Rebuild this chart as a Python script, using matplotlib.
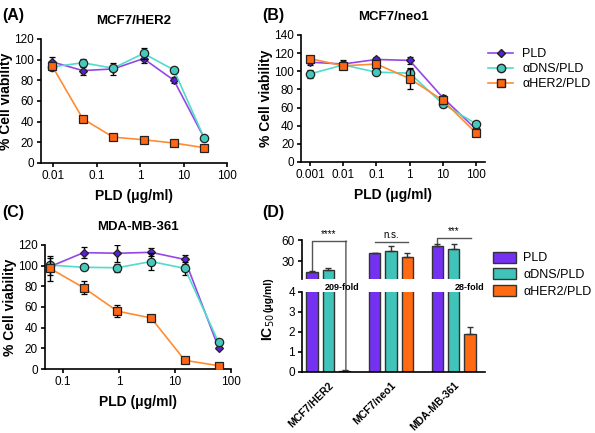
import matplotlib
matplotlib.use('Agg')
import matplotlib.pyplot as plt
from matplotlib.patches import Patch, ConnectionPatch
from matplotlib.lines import Line2D
from matplotlib.ticker import FixedLocator, FixedFormatter, NullLocator

plt.rcParams['font.family'] = ['Liberation Sans', 'DejaVu Sans']

# ---- data ----
series = ['PLD', 'αDNS/PLD', 'αHER2/PLD']

a_x = [0.0096, 0.048, 0.24, 1.2, 6, 30]
a_pld = [97.8, 89.4, 91, 101, 80, 24]
a_pld_err = [5, 4, 6, 4, 3, 2]
a_dns = [93, 97, 91.7, 106, 90, 24]
a_dns_err = [3, 4, 3, 5, 3, 2]
a_her2 = [93.5, 42.8, 25, 22.5, 19.3, 14.8]
a_her2_err = [2, 1.5, 1.5, 1.5, 1.5, 1]

b_x = [0.001, 0.01, 0.1, 1, 10, 100]
b_pld = [110, 108, 113, 112, 71, 36]
b_pld_err = [3, 4, 3, 4, 3, 2]
b_dns = [97, 107, 99, 98, 64, 42]
b_dns_err = [4, 3, 2, 5, 3, 2]
b_her2 = [114, 106, 108, 92, 68, 32]
b_her2_err = [3, 4, 3, 12, 4, 2]

c_x = [0.0586, 0.234, 0.9375, 3.75, 15, 60]
c_pld = [99, 112.6, 112, 112.9, 106, 20.6]
c_pld_err = [8, 5, 8, 4, 4, 1]
c_dns = [100.6, 98.4, 98, 104, 97.4, 25.8]
c_dns_err = [2, 2, 4, 8, 6, 2]
c_her2 = [97.4, 78.7, 56, 49.4, 8.4, 3.2]
c_her2_err = [12, 6, 6, 2, 2, 1]

cells = ['MCF7/HER2', 'MCF7/neo1', 'MDA-MB-361']
ic50_pld = [15.5, 41.2, 51.6]
ic50_pld_err = [1.2, 1, 3]
ic50_dns = [18.3, 44, 47.8]
ic50_dns_err = [1.5, 8, 6]
ic50_her2 = [0.074, 36.6, 1.88]
ic50_her2_err = [0.02, 4.5, 0.35]

line_cols = ['#9447e6', '#4fdccb', '#ff8c33']
face_cols = ['#5a1fd6', '#46c9bd', '#ff6614']
bar_cols = ['#7431f2', '#40c4b9', '#ff6a12']
markers = ['D', 'o', 's']
msizes = [4, 6, 6]

fig = plt.figure(figsize=(5.95, 4.33), dpi=100)


def curve_panel(ax, x, ys, errs, xticks, xlabels, ymax, title):
    for i in range(3):
        ax.errorbar(x, ys[i], yerr=errs[i], color=line_cols[i], lw=1.2,
                    marker=markers[i], ms=msizes[i], mfc=face_cols[i],
                    mec='#222222', mew=0.9, ecolor='black', elinewidth=1,
                    capsize=2.5, capthick=1, zorder=3 + i)
    ax.set_xscale('log')
    ax.xaxis.set_major_locator(FixedLocator(xticks))
    ax.xaxis.set_major_formatter(FixedFormatter(xlabels))
    ax.xaxis.set_minor_locator(NullLocator())
    ax.set_ylim(0, ymax)
    ax.set_yticks(range(0, ymax + 1, 20))
    for s in ['top', 'right']:
        ax.spines[s].set_visible(False)
    for s in ['left', 'bottom']:
        ax.spines[s].set_linewidth(1.2)
    ax.tick_params(labelsize=8.5, width=1.2, length=3, pad=2)
    ax.set_xlabel('PLD (μg/ml)', fontsize=10, fontweight='bold', labelpad=5)
    ax.set_ylabel('% Cell viability', fontsize=10, fontweight='bold', labelpad=1)
    ax.set_title(title, fontsize=9.5, fontweight='bold', pad=11)


axA = fig.add_axes([0.0689, 0.6236, 0.3126, 0.2864])
curve_panel(axA, a_x, [a_pld, a_dns, a_her2], [a_pld_err, a_dns_err, a_her2_err],
            [0.01, 0.1, 1, 10, 100], ['0.01', '0.1', '1', '10', '100'], 120, 'MCF7/HER2')
axA.set_xlim(10 ** -2.28, 100)

axB = fig.add_axes([0.5059, 0.6259, 0.3092, 0.2933])
curve_panel(axB, b_x, [b_pld, b_dns, b_her2], [b_pld_err, b_dns_err, b_her2_err],
            b_x, ['0.001', '0.01', '0.1', '1', '10', '100'], 140, 'MCF7/neo1')
axB.set_xlim(10 ** -3.27, 10 ** 2.27)

axC = fig.add_axes([0.0756, 0.1478, 0.3126, 0.2864])
curve_panel(axC, c_x, [c_pld, c_dns, c_her2], [c_pld_err, c_dns_err, c_her2_err],
            [0.1, 1, 10, 100], ['0.1', '1', '10', '100'], 120, 'MDA-MB-361')
axC.set_xlim(10 ** -1.32, 100)

handles = [Line2D([], [], color=line_cols[i], marker=markers[i], ms=msizes[i],
                  mfc=face_cols[i], mec='#222222', lw=1.2) for i in range(3)]
fig.legend(handles, series, loc='upper left', bbox_to_anchor=(0.802, 0.915),
           frameon=False, fontsize=9, handlelength=2.0, labelspacing=0.25,
           handletextpad=0.7)

# ---- panel D: broken axis bar chart ----
axLo = fig.add_axes([0.5076, 0.1409, 0.3076, 0.1848])
axUp = fig.add_axes([0.5076, 0.3557, 0.3076, 0.0900])
offs = [-0.26, 0, 0.26]
vals = [ic50_pld, ic50_dns, ic50_her2]
errs = [ic50_pld_err, ic50_dns_err, ic50_her2_err]
for ax in (axLo, axUp):
    for i in range(3):
        xs = [g + offs[i] for g in range(3)]
        ax.bar(xs, vals[i], width=0.18, color=bar_cols[i], edgecolor='#333333',
               linewidth=1.0, yerr=[[0] * 3, errs[i]], capsize=2,
               error_kw=dict(elinewidth=1, capthick=1, ecolor='#333333'), zorder=2)
    ax.set_xlim(-0.42, 2.5)
    for s in ['top', 'right']:
        ax.spines[s].set_visible(False)
    ax.spines['left'].set_linewidth(1.2)
    ax.tick_params(labelsize=8.5, width=1.2, length=3, pad=2)

axLo.set_ylim(0, 4)
axLo.set_yticks([0, 1, 2, 3, 4])
axLo.spines['bottom'].set_linewidth(1.2)
axLo.set_xticks(range(3))
axLo.set_xticklabels(cells, rotation=45, ha='right', rotation_mode='anchor',
                     fontsize=7.5, fontweight='bold')
axLo.tick_params(axis='x', length=0, pad=6)

axUp.set_ylim(5, 60)
axUp.set_yticks([30, 60])
axUp.spines['bottom'].set_visible(False)
axUp.set_xticks([])

fig.text(0.452, 1 - 327 / 433, 'IC$_{50}$', rotation=90, ha='center', va='center',
         fontsize=10, fontweight='bold')
fig.text(0.452, 1 - 295 / 433, '(μg/ml)', rotation=90, ha='center', va='center',
         fontsize=7.5, fontweight='bold')

# significance brackets
lc = '#555555'
x1, x2 = 0 - 0.26, 0 + 0.28
axUp.plot([x1, x1, x2], [17.5, 58.6, 58.6], color=lc, lw=1, clip_on=False)
fig.add_artist(ConnectionPatch((x2, 58.6), (x2, 0.1), 'data', 'data',
                               axesA=axUp, axesB=axLo, color=lc, lw=1))
axUp.text((x1 + x2) / 2, 61, '****', ha='center', va='bottom', fontsize=7)
fig.text(0.575, 0.337, '209-fold', ha='center', va='center', fontsize=6.5,
         fontweight='bold')

axUp.plot([0.74, 1.27], [57, 57], color=lc, lw=1, clip_on=False)
axUp.text(1.0, 60, 'n.s.', ha='center', va='bottom', fontsize=7)

x1, x2 = 2 - 0.26, 2 + 0.27
axUp.plot([x1, x1, x2], [56, 62.9, 62.9], color=lc, lw=1, clip_on=False)
fig.add_artist(ConnectionPatch((x2, 62.9), (x2, 2.35), 'data', 'data',
                               axesA=axUp, axesB=axLo, color=lc, lw=1))
axUp.text((x1 + x2) / 2, 65, '***', ha='center', va='bottom', fontsize=7)
fig.text(0.79, 0.337, '28-fold', ha='center', va='center', fontsize=6.5,
         fontweight='bold')

bar_handles = [Patch(facecolor=bar_cols[i], edgecolor='#333333', lw=1) for i in range(3)]
fig.legend(bar_handles, series, loc='upper left', bbox_to_anchor=(0.81, 0.445),
           frameon=False, fontsize=9, handlelength=1.8, handleheight=1.0,
           labelspacing=0.3, handletextpad=0.6)

# panel letters
for x, y, s in [(0.003, 0.965, '(A)'), (0.44, 0.965, '(B)'),
                (0.003, 0.51, '(C)'), (0.44, 0.51, '(D)')]:
    fig.text(x, y, s, fontsize=11.5, fontweight='bold', va='center')

fig.savefig('out.png', dpi=100)
